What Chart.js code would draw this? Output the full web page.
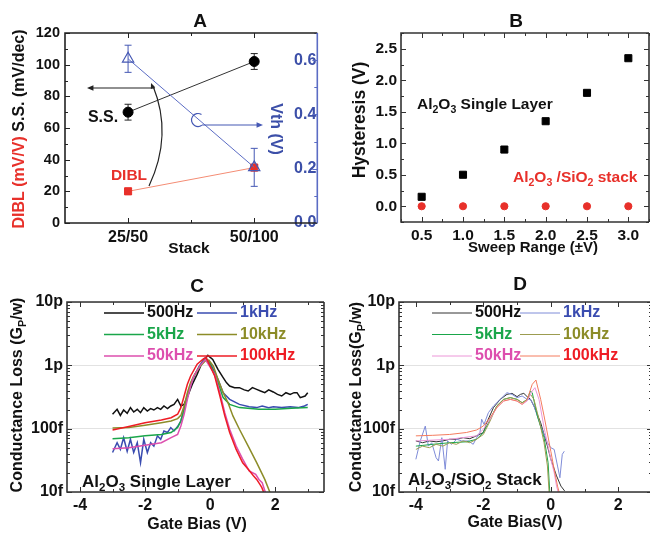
<!DOCTYPE html>
<html>
<head>
<meta charset="utf-8">
<script src="https://cdn.jsdelivr.net/npm/chart.js@4.4.0/dist/chart.umd.min.js"></script>
<style>
  html, body { margin: 0; padding: 0; background: #fff; width: 650px; height: 534px; overflow: hidden; }
  .panel { position: absolute; }
</style>
</head>
<body>
<canvas id="chartA" class="panel" width="325" height="260" style="left:0;top:0"></canvas>
<canvas id="chartB" class="panel" width="330" height="260" style="left:325px;top:0"></canvas>
<canvas id="chartC" class="panel" width="325" height="274" style="left:0;top:260px"></canvas>
<canvas id="chartD" class="panel" width="330" height="274" style="left:325px;top:260px"></canvas>
<script>
const FONT = '"Liberation Sans", Arial, Helvetica, sans-serif';
const BLUE = '#4558b4';
const RED = '#e8302a';

// ---------- A : S.S. / DIBL / Vth vs stack
const stackLabels = ['25/50', '50/100'];
const ssValues = [70, 102];
const ssErrors = [5, 5];
const diblValues = [20, 35];
const diblErrors = [2, 2];
const vthValues = [0.605, 0.205];
const vthErrors = [0.05, 0.07];

// ---------- B : hysteresis vs sweep range
const sweepRange = [0.5, 1.0, 1.5, 2.0, 2.5, 3.0];
const hystSingle = [0.15, 0.5, 0.9, 1.35, 1.8, 2.35];
const hystStack = [0, 0, 0, 0, 0, 0];

// ---------- C / D : conductance loss (values in pF/um -> p units), [bias, Gp/w]
const freqLabels = ['500Hz', '1kHz', '5kHz', '10kHz', '50kHz', '100kHz'];
const logTicks = [0.01, 0.1, 1, 10];
const logTickLabels = ['10f', '100f', '1p', '10p'];
const biasTicks = [-4, -2, 0, 2];

const c500 = [[-3.0,0.169],[-2.86,0.202],[-2.76,0.162],[-2.66,0.197],[-2.55,0.175],[-2.45,0.215],[-2.35,0.183],[-2.24,0.202],[-2.14,0.179],[-2.04,0.215],[-1.93,0.19],[-1.83,0.207],[-1.73,0.197],[-1.62,0.215],[-1.52,0.202],[-1.42,0.228],[-1.31,0.207],[-1.21,0.228],[-1.11,0.242],[-1.0,0.29],[-0.9,0.228],[-0.8,0.242],[-0.69,0.328],[-0.55,0.5],[-0.4,0.72],[-0.25,1.1],[-0.07,1.44],[0.08,1.24],[0.24,0.865],[0.4,0.64],[0.5,0.533],[0.6,0.472],[0.75,0.444],[0.9,0.444],[1.05,0.41],[1.17,0.393],[1.3,0.444],[1.43,0.418],[1.55,0.393],[1.68,0.37],[1.8,0.41],[1.94,0.38],[2.07,0.348],[2.2,0.328],[2.33,0.37],[2.46,0.348],[2.58,0.37],[2.67,0.37],[2.77,0.309],[2.92,0.328],[3.0,0.37]];
const c1k = [[-3.0,0.042],[-2.86,0.06],[-2.76,0.047],[-2.66,0.072],[-2.55,0.044],[-2.45,0.068],[-2.35,0.042],[-2.24,0.06],[-2.14,0.029],[-2.04,0.068],[-1.93,0.042],[-1.83,0.06],[-1.73,0.053],[-1.62,0.077],[-1.52,0.068],[-1.42,0.092],[-1.31,0.087],[-1.21,0.104],[-1.11,0.092],[-1.0,0.108],[-0.9,0.132],[-0.8,0.202],[-0.69,0.328],[-0.59,0.501],[-0.49,0.679],[-0.33,0.976],[-0.15,1.32],[0.0,1.1],[0.24,0.601],[0.4,0.37],[0.6,0.29],[0.9,0.242],[1.2,0.222],[1.43,0.215],[1.6,0.228],[1.8,0.215],[1.94,0.222],[2.2,0.215],[2.46,0.222],[2.7,0.215],[2.9,0.228],[3.0,0.242]];
const c5k = [[-3.0,0.0695],[-2.5,0.072],[-2.0,0.077],[-1.5,0.081],[-1.2,0.087],[-1.0,0.104],[-0.9,0.132],[-0.8,0.202],[-0.7,0.328],[-0.6,0.501],[-0.5,0.679],[-0.35,0.919],[-0.15,1.24],[0.0,1.04],[0.24,0.533],[0.4,0.309],[0.6,0.242],[0.9,0.215],[1.5,0.202],[2.0,0.202],[2.5,0.21],[3.0,0.215]];
const c10k = [[-3.0,0.1025],[-2.5,0.104],[-2.0,0.113],[-1.5,0.124],[-1.2,0.132],[-1.0,0.144],[-0.9,0.162],[-0.8,0.228],[-0.7,0.37],[-0.6,0.533],[-0.5,0.679],[-0.3,0.976],[-0.15,1.17],[-0.04,1.21],[0.1,0.976],[0.24,0.601],[0.4,0.37],[0.55,0.257],[0.7,0.159],[0.9,0.098],[1.17,0.053],[1.43,0.029],[1.68,0.0158],[1.84,0.0098]];
const c50k = [[-3.0,0.0483],[-2.5,0.05],[-2.0,0.0546],[-1.5,0.06],[-1.2,0.072],[-1.0,0.081],[-0.9,0.11],[-0.8,0.169],[-0.7,0.29],[-0.6,0.472],[-0.5,0.679],[-0.3,1.0],[-0.15,1.24],[0.14,0.721],[0.3,0.37],[0.45,0.179],[0.6,0.098],[0.8,0.053],[1.0,0.033],[1.2,0.0215],[1.4,0.019],[1.5,0.0158],[1.6,0.014],[1.7,0.0098]];
const c100k = [[-3.0,0.0953],[-2.5,0.108],[-2.0,0.124],[-1.5,0.137],[-1.2,0.149],[-1.0,0.169],[-0.9,0.215],[-0.8,0.328],[-0.7,0.501],[-0.6,0.679],[-0.4,1.04],[-0.2,1.27],[-0.12,1.32],[0.14,0.679],[0.3,0.328],[0.45,0.159],[0.6,0.087],[0.8,0.047],[1.0,0.029],[1.17,0.0228],[1.33,0.018],[1.43,0.0158],[1.53,0.0132],[1.59,0.0117],[1.65,0.0098]];

const d500 = [[-4.0,0.064],[-3.8,0.06],[-3.6,0.064],[-3.4,0.062],[-3.2,0.064],[-3.0,0.068],[-2.8,0.068],[-2.6,0.072],[-2.4,0.0695],[-2.2,0.077],[-2.0,0.087],[-1.9,0.124],[-1.7,0.215],[-1.5,0.29],[-1.3,0.348],[-1.15,0.361],[-1.0,0.32],[-0.9,0.348],[-0.8,0.361],[-0.7,0.32],[-0.6,0.29],[-0.5,0.228],[-0.3,0.124],[-0.1,0.053],[0.0,0.033],[0.17,0.018],[0.3,0.0124],[0.41,0.0104]];
const d1k = [[-4.0,0.0328],[-3.87,0.064],[-3.72,0.11],[-3.63,0.053],[-3.53,0.06],[-3.4,0.0348],[-3.33,0.0309],[-3.23,0.072],[-3.13,0.0228],[-3.06,0.064],[-2.94,0.0566],[-2.79,0.068],[-2.64,0.064],[-2.44,0.064],[-2.3,0.0566],[-2.2,0.072],[-2.1,0.087],[-2.05,0.141],[-1.98,0.117],[-1.85,0.179],[-1.7,0.228],[-1.5,0.29],[-1.3,0.37],[-1.15,0.348],[-1.0,0.309],[-0.85,0.328],[-0.7,0.29],[-0.6,0.29],[-0.5,0.228],[-0.3,0.11],[-0.1,0.06],[0.0,0.05],[0.1,0.047],[0.2,0.0257],[0.27,0.0168],[0.34,0.0393],[0.4,0.044]];
const d5k = [[-4.0,0.053],[-3.5,0.0566],[-3.0,0.06],[-2.5,0.062],[-2.2,0.068],[-2.0,0.087],[-1.8,0.141],[-1.6,0.228],[-1.4,0.29],[-1.2,0.309],[-1.0,0.29],[-0.85,0.257],[-0.7,0.29],[-0.6,0.393],[-0.55,0.37],[-0.4,0.159],[-0.2,0.072],[-0.08,0.029],[-0.03,0.0098]];
const d10k = [[-4.0,0.047],[-3.8,0.053],[-3.6,0.05],[-3.4,0.0566],[-3.2,0.053],[-3.0,0.06],[-2.8,0.0566],[-2.6,0.064],[-2.4,0.06],[-2.2,0.068],[-2.0,0.081],[-1.8,0.132],[-1.6,0.228],[-1.4,0.29],[-1.2,0.309],[-1.0,0.29],[-0.85,0.257],[-0.75,0.273],[-0.6,0.348],[-0.5,0.29],[-0.35,0.141],[-0.2,0.06],[-0.1,0.0257],[-0.05,0.0098]];
const d50k = [[-4.0,0.064],[-3.0,0.068],[-2.2,0.077],[-2.0,0.098],[-1.8,0.141],[-1.6,0.215],[-1.4,0.273],[-1.2,0.29],[-1.0,0.273],[-0.85,0.242],[-0.7,0.273],[-0.55,0.393],[-0.47,0.444],[-0.35,0.29],[-0.2,0.104],[0.0,0.033],[0.1,0.0202],[0.17,0.0124],[0.22,0.0098]];
const d100k = [[-4.0,0.077],[-3.5,0.0785],[-3.0,0.081],[-2.5,0.087],[-2.2,0.0953],[-2.0,0.11],[-1.8,0.149],[-1.6,0.215],[-1.4,0.273],[-1.2,0.29],[-1.0,0.273],[-0.85,0.242],[-0.7,0.29],[-0.55,0.501],[-0.44,0.586],[-0.3,0.29],[-0.2,0.159],[0.0,0.044],[0.1,0.0228],[0.2,0.0124],[0.25,0.0098]];

const seriesC = [c500, c1k, c5k, c10k, c50k, c100k];
const seriesD = [d500, d1k, d5k, d10k, d50k, d100k];
const textColors = ['#111', '#3a4cb0', '#1aa64a', '#8c8c28', '#dd4fae', '#ee1c24'];
const lineColorsC = ['#111', '#3a4cb0', '#1aa64a', '#8c8c28', '#dd4fae', '#ee1c24'];
const lineColorsD = ['#333', '#7f8cd8', '#1aa64a', '#9c9c50', '#ec96d8', '#f47c5e'];

function range(a, b, step) {
  const out = [];
  for (let v = a; v <= b + 1e-9; v += step) out.push(+v.toFixed(4));
  return out;
}
const logMinor = [0.01, 0.1, 1].flatMap(d => [2,3,4,5,6,7,8,9].map(k => +(d * k).toFixed(4)));

function boldFont(size) { return `bold ${size}px ${FONT}`; }

// text with subscripts: parts = [text, color, isSub]
function rich(ctx, x, y, parts, size, align) {
  const widths = parts.map(p => { ctx.font = boldFont(p[2] ? size * 0.68 : size); return ctx.measureText(p[0]).width; });
  const total = widths.reduce((a, b) => a + b, 0);
  let cx = align === 'center' ? x - total / 2 : (align === 'right' ? x - total : x);
  ctx.textAlign = 'left';
  ctx.textBaseline = 'middle';
  parts.forEach((p, i) => {
    ctx.font = boldFont(p[2] ? size * 0.68 : size);
    ctx.fillStyle = p[1];
    ctx.fillText(p[0], cx, p[2] ? y + size * 0.32 : y);
    cx += widths[i];
  });
}
function rotated(ctx, x, y, angle, parts, size) {
  ctx.save();
  ctx.translate(x, y);
  ctx.rotate(angle);
  rich(ctx, 0, 0, parts, size, 'center');
  ctx.restore();
}
function arrowHead(ctx, x, y, ang, len) {
  ctx.beginPath();
  ctx.moveTo(x, y);
  ctx.lineTo(x - len * Math.cos(ang - 0.4), y - len * Math.sin(ang - 0.4));
  ctx.lineTo(x - len * Math.cos(ang + 0.4), y - len * Math.sin(ang + 0.4));
  ctx.closePath();
  ctx.fill();
}

// frame and inward ticks
const framePlugin = {
  id: 'frame',
  afterDraw(chart, args, o) {
    const { ctx, chartArea: a } = chart;
    ctx.save();
    ctx.lineWidth = 1;
    (o.ticks || []).forEach(t => {
      const s = chart.scales[t.scale];
      ctx.strokeStyle = t.color || o.color;
      [[t.major, 5], [t.minor, 3]].forEach(([vals, len]) => {
        (vals || []).forEach(v => {
          const p = Math.round(s.getPixelForValue(v)) + 0.5;
          ctx.beginPath();
          if (t.side === 'left') { ctx.moveTo(a.left, p); ctx.lineTo(a.left + len, p); }
          if (t.side === 'right') { ctx.moveTo(a.right, p); ctx.lineTo(a.right - len, p); }
          if (t.side === 'bottom') { ctx.moveTo(p, a.bottom); ctx.lineTo(p, a.bottom - len); }
          if (t.side === 'top') { ctx.moveTo(p, a.top); ctx.lineTo(p, a.top + len); }
          ctx.stroke();
        });
      });
    });
    ctx.lineWidth = 1.6;
    ctx.strokeStyle = o.color;
    ctx.beginPath();
    ctx.moveTo(a.right, a.top); ctx.lineTo(a.left, a.top);
    ctx.lineTo(a.left, a.bottom); ctx.lineTo(a.right, a.bottom);
    ctx.stroke();
    ctx.strokeStyle = o.rightColor || o.color;
    ctx.beginPath(); ctx.moveTo(a.right, a.top); ctx.lineTo(a.right, a.bottom); ctx.stroke();
    ctx.restore();
  }
};

const errorBarPlugin = {
  id: 'errorBars',
  beforeDatasetsDraw(chart) {
    const ctx = chart.ctx;
    chart.data.datasets.forEach((ds, i) => {
      if (!ds.errors) return;
      const meta = chart.getDatasetMeta(i);
      const ys = chart.scales[meta.yAxisID];
      ctx.save();
      ctx.strokeStyle = ds.errorColor;
      ctx.lineWidth = 1;
      meta.data.forEach((pt, j) => {
        const top = ys.getPixelForValue(ds.data[j] + ds.errors[j]);
        const bot = ys.getPixelForValue(ds.data[j] - ds.errors[j]);
        ctx.beginPath();
        ctx.moveTo(pt.x, top); ctx.lineTo(pt.x, bot);
        ctx.moveTo(pt.x - 3.5, top); ctx.lineTo(pt.x + 3.5, top);
        ctx.moveTo(pt.x - 3.5, bot); ctx.lineTo(pt.x + 3.5, bot);
        ctx.stroke();
      });
      ctx.restore();
    });
  }
};

function tickFont(size) { return { family: FONT, size: size, weight: 'bold' }; }
function fixedBox(w) { return s => { s.width = w; }; }
function fixedHeight(h) { return s => { s.height = h; }; }
function setTicks(vals) { return s => { s.ticks = vals.map(v => ({ value: v })); }; }
const noGrid = { display: false, drawTicks: false };

// ================= A
new Chart(document.getElementById('chartA'), {
  type: 'line',
  data: {
    labels: stackLabels,
    datasets: [
      { label: 'Vth', data: vthValues, errors: vthErrors, errorColor: BLUE, yAxisID: 'y2',
        borderColor: '#5b6cc4', borderWidth: 1, pointStyle: 'triangle', pointRadius: 6.5,
        pointBorderColor: BLUE, pointBackgroundColor: 'rgba(255,255,255,0)', pointBorderWidth: 1.2 },
      { label: 'S.S.', data: ssValues, errors: ssErrors, errorColor: '#222', yAxisID: 'y',
        borderColor: '#333', borderWidth: 1, pointStyle: 'circle', pointRadius: 5,
        pointBackgroundColor: '#000', pointBorderColor: '#000' },
      { label: 'DIBL', data: diblValues, errors: diblErrors, errorColor: RED, yAxisID: 'y',
        borderColor: '#f48c74', borderWidth: 1, pointStyle: 'rect', pointRadius: 5,
        pointBackgroundColor: RED, pointBorderColor: RED }
    ]
  },
  options: {
    responsive: false, animation: false,
    layout: { padding: { top: 33, right: 0, left: 0, bottom: 0 } },
    plugins: {
      legend: { display: false }, tooltip: { enabled: false },
      frame: { color: '#222', rightColor: '#5b6cc4', ticks: [
        { scale: 'y', side: 'left', major: range(0, 120, 20), minor: range(10, 110, 20) },
        { scale: 'y2', side: 'right', color: '#5b6cc4', major: range(0, 0.6, 0.2), minor: range(0.1, 0.7, 0.2) },
        { scale: 'x', side: 'bottom', major: [0, 1], minor: [0.5] },
        { scale: 'x', side: 'top', major: [0, 1], minor: [0.5] }
      ] }
    },
    scales: {
      x: { type: 'category', offset: true, grid: noGrid, border: { display: false },
           ticks: { font: tickFont(16), color: '#111', padding: 5, maxRotation: 0, autoSkip: false },
           afterFit: fixedHeight(37) },
      y: { position: 'left', min: 0, max: 120, grid: noGrid, border: { display: false },
           afterBuildTicks: setTicks(range(0, 120, 20)),
           ticks: { font: tickFont(14.5), color: '#111', padding: 5 }, afterFit: fixedBox(65) },
      y2: { position: 'right', min: 0, max: 0.7, grid: noGrid, border: { display: false },
            afterBuildTicks: setTicks(range(0, 0.6, 0.2)),
            ticks: { mirror: true, padding: -1, font: tickFont(16), color: '#3c4fa8', callback: v => v.toFixed(1) },
            afterFit: fixedBox(7) }
    }
  },
  plugins: [errorBarPlugin, framePlugin, {
    id: 'textA',
    afterDraw(chart) {
      const ctx = chart.ctx;
      ctx.save();
      rich(ctx, 200, 22, [['A', '#111']], 19, 'center');
      rich(ctx, 189, 249, [['Stack', '#111']], 15.5, 'center');
      rotated(ctx, 20, 129, -Math.PI / 2, [['DIBL (mV/V)', RED], [' S.S. (mV/dec)', '#111']], 16);
      rotated(ctx, 275, 129, Math.PI / 2, [['Vth (V)', '#3c4fa8']], 16);
      rich(ctx, 103, 118, [['S.S.', '#111']], 16, 'center');
      rich(ctx, 129, 176, [['DIBL', RED]], 15.5, 'center');
      // black arrows
      ctx.strokeStyle = '#222'; ctx.fillStyle = '#222'; ctx.lineWidth = 1.2;
      ctx.beginPath(); ctx.moveTo(155, 88); ctx.lineTo(92, 88); ctx.stroke();
      arrowHead(ctx, 87, 88, Math.PI, 7);
      ctx.beginPath(); ctx.moveTo(149, 186); ctx.quadraticCurveTo(173, 135, 153, 86); ctx.stroke();
      arrowHead(ctx, 151, 83, -Math.PI * 0.62, 6);
      // blue arrow
      ctx.strokeStyle = BLUE; ctx.fillStyle = BLUE;
      ctx.beginPath(); ctx.arc(198, 120, 6.5, -0.32 * Math.PI, 0.3 * Math.PI, true); ctx.stroke();
      ctx.beginPath(); ctx.moveTo(202, 125); ctx.lineTo(257, 125); ctx.stroke();
      arrowHead(ctx, 263, 125, 0, 7);
      ctx.restore();
    }
  }]
});

// ================= B
new Chart(document.getElementById('chartB'), {
  type: 'scatter',
  data: {
    datasets: [
      { label: 'Al2O3 single layer', data: sweepRange.map((x, i) => ({ x, y: hystSingle[i] })),
        pointStyle: 'rect', pointRadius: 5, pointBackgroundColor: '#000', pointBorderColor: '#000' },
      { label: 'Al2O3/SiO2 stack', data: sweepRange.map((x, i) => ({ x, y: hystStack[i] })),
        pointStyle: 'circle', pointRadius: 3.6, pointBackgroundColor: RED, pointBorderColor: RED }
    ]
  },
  options: {
    responsive: false, animation: false,
    layout: { padding: { top: 33, right: 3, left: 0, bottom: 0 } },
    plugins: {
      legend: { display: false }, tooltip: { enabled: false },
      frame: { color: '#333', ticks: [
        { scale: 'y', side: 'left', major: range(0, 2.5, 0.5), minor: range(-0.25, 2.75, 0.5) },
        { scale: 'y', side: 'right', major: range(0, 2.5, 0.5), minor: range(-0.25, 2.75, 0.5) },
        { scale: 'x', side: 'bottom', major: range(0.5, 3, 0.5), minor: range(0.25, 3.25, 0.5) },
        { scale: 'x', side: 'top', major: range(0.5, 3, 0.5), minor: range(0.25, 3.25, 0.5) }
      ] }
    },
    scales: {
      x: { type: 'linear', min: 0.25, max: 3.25, grid: noGrid, border: { display: false },
           afterBuildTicks: setTicks(sweepRange),
           ticks: { font: tickFont(15.5), color: '#111', padding: 4, callback: v => v.toFixed(1) },
           afterFit: fixedHeight(38) },
      y: { min: -0.25, max: 2.75, grid: noGrid, border: { display: false },
           afterBuildTicks: setTicks(range(0, 2.5, 0.5)),
           ticks: { font: tickFont(15.5), color: '#111', padding: 4, callback: v => v.toFixed(1) },
           afterFit: fixedBox(76) }
    }
  },
  plugins: [framePlugin, {
    id: 'textB',
    afterDraw(chart) {
      const ctx = chart.ctx;
      const k = '#111';
      rich(ctx, 191, 22, [['B', k]], 19, 'center');
      rich(ctx, 208, 248, [['Sweep Range (\u00B1V)', k]], 15, 'center');
      rotated(ctx, 35, 120, -Math.PI / 2, [['Hysteresis (V)', k]], 17.5);
      rich(ctx, 92, 105, [['Al', k], ['2', k, 1], ['O', k], ['3', k, 1], [' Single Layer', k]], 15.5, 'left');
      rich(ctx, 188, 178, [['Al', RED], ['2', RED, 1], ['O', RED], ['3', RED, 1], [' /SiO', RED], ['2', RED, 1], [' stack', RED]], 15.5, 'left');
    }
  }]
});

// ================= C / D helpers
function conductanceChart(id, series, lineColors, lw, opt) {
  return new Chart(document.getElementById(id), {
    type: 'scatter',
    data: {
      datasets: series.map((pts, i) => ({
        label: freqLabels[i],
        data: pts.map(p => ({ x: p[0], y: p[1] })),
        showLine: true, borderColor: lineColors[i], borderWidth: lw,
        pointRadius: 0, tension: 0, order: 6 - i
      }))
    },
    options: {
      responsive: false, animation: false,
      layout: { padding: { top: 42, right: opt.padRight, left: 0, bottom: 0 } },
      plugins: {
        legend: { display: false }, tooltip: { enabled: false },
        frame: { color: '#333', ticks: [
          { scale: 'y', side: 'left', major: logTicks, minor: logMinor },
          { scale: 'y', side: 'right', major: logTicks, minor: logMinor },
          { scale: 'x', side: 'bottom', major: biasTicks, minor: range(-3, 3, 2) },
          { scale: 'x', side: 'top', major: biasTicks, minor: range(-3, 3, 2) }
        ] }
      },
      scales: {
        x: { type: 'linear', min: opt.xMin, max: opt.xMax, grid: noGrid, border: { display: false },
             afterBuildTicks: setTicks(biasTicks),
             ticks: { font: tickFont(16), color: '#111', padding: 4 },
             afterFit: fixedHeight(42) },
        y: { type: 'logarithmic', min: 0.01, max: 10, border: { display: false },
             grid: { display: true, drawTicks: false, color: '#e2e2e2', lineWidth: 1 },
             afterBuildTicks: setTicks(logTicks),
             ticks: { font: tickFont(16), color: '#111', padding: 4, callback: (v, i) => logTickLabels[i] },
             afterFit: fixedBox(opt.left) }
      }
    },
    plugins: [framePlugin, {
      id: 'text' + id,
      afterDraw(chart) {
        const ctx = chart.ctx;
        const k = '#111';
        ctx.save();
        rich(ctx, opt.title[0], opt.title[1], [[opt.letter, k]], 19, 'center');
        rich(ctx, opt.xTitle[0], opt.xTitle[1], [[opt.xText, k]], 16, 'center');
        rotated(ctx, opt.yTitle[0], opt.yTitle[1], -Math.PI / 2,
          [[opt.yText, k], ['P', k, 1], ['/w)', k]], 16);
        rich(ctx, opt.note[0], opt.note[1], opt.noteParts, 17, 'left');
        // legend
        freqLabels.forEach((lab, i) => {
          const col = i % 2, row = Math.floor(i / 2);
          const lx = opt.legX[col], y = opt.legY + row * 21.5;
          ctx.strokeStyle = lineColors[i]; ctx.lineWidth = lw;
          ctx.beginPath(); ctx.moveTo(lx, y); ctx.lineTo(lx + 40, y); ctx.stroke();
          rich(ctx, lx + 43, y, [[lab, textColors[i]]], 16, 'left');
        });
        ctx.restore();
      }
    }]
  });
}

conductanceChart('chartC', seriesC, lineColorsC, 1.5, {
  padRight: 1, left: 67, xMin: -4.4, xMax: 3.5,
  letter: 'C', title: [197, 27], xText: 'Gate Bias (V)', xTitle: [197, 265],
  yText: 'Conductance Loss (G', yTitle: [18, 135],
  note: [82, 222], noteParts: [['Al', '#111'], ['2', '#111', 1], ['O', '#111'], ['3', '#111', 1], [' Single Layer', '#111']],
  legX: [104, 197], legY: 53
});

conductanceChart('chartD', seriesD, lineColorsD, 1, {
  padRight: 3, left: 74, xMin: -4.5, xMax: 3.0,
  letter: 'D', title: [195, 25], xText: 'Gate Bias(V)', xTitle: [190, 263],
  yText: 'Conductance Loss(G', yTitle: [32, 137],
  note: [83, 220], noteParts: [['Al', '#111'], ['2', '#111', 1], ['O', '#111'], ['3', '#111', 1], ['/SiO', '#111'], ['2', '#111', 1], [' Stack', '#111']],
  legX: [107, 195], legY: 53
});
</script>
</body>
</html>
